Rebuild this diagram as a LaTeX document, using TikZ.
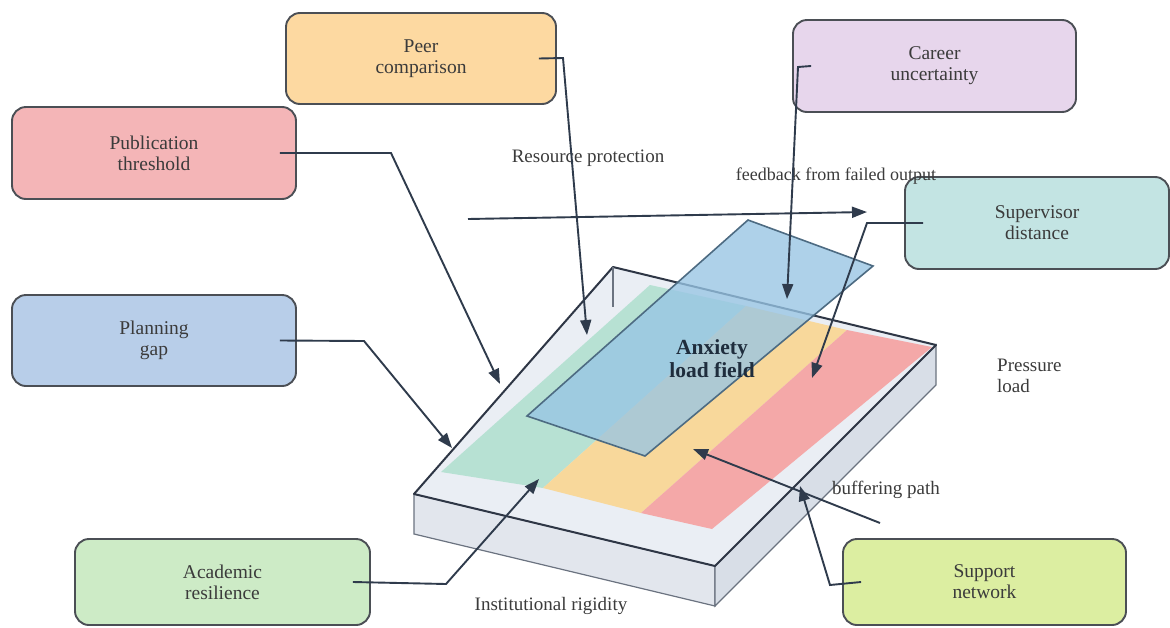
\documentclass[tikz,border=0pt]{standalone}
\usepackage{fontspec}
\setmainfont{Liberation Serif}
\usetikzlibrary{arrows.meta,calc}
\definecolor{peerfill}{HTML}{FDD9A1}
\definecolor{careerfill}{HTML}{E7D6EC}
\definecolor{pubfill}{HTML}{F4B5B7}
\definecolor{supfill}{HTML}{C3E4E3}
\definecolor{planfill}{HTML}{B8CEE9}
\definecolor{acadfill}{HTML}{CDEBC6}
\definecolor{suppfill}{HTML}{DCEEA1}
\definecolor{boxline}{HTML}{4B4F55}
\definecolor{txt}{HTML}{3B3B3B}
\definecolor{arrowc}{HTML}{2F3B4C}
\definecolor{sgreen}{HTML}{B7E1D3}
\definecolor{syellow}{HTML}{F8D89B}
\definecolor{sred}{HTML}{F4A8A8}
\definecolor{slabtop}{HTML}{EAEEF4}
\definecolor{slabfront}{HTML}{E2E6ED}
\definecolor{slabright}{HTML}{D8DEE7}
\definecolor{slabedge}{HTML}{6B7380}
\definecolor{topedge}{HTML}{2E3645}
\definecolor{planefill}{HTML}{98C5E4}
\definecolor{planeedge}{HTML}{4D6B82}
\definecolor{anx}{HTML}{1F2D3D}
\tikzset{
  box/.style={draw=boxline, line width=1.9pt, rounded corners=14pt, align=center,
    font=\fontsize{19.5}{21}\selectfont, text=txt, inner sep=0pt},
  lbl/.style={font=\fontsize{19}{21}\selectfont, text=txt, inner sep=0pt},
  conn/.style={draw=arrowc, line width=1.9pt, -{Triangle[length=15pt,width=11pt]}},
}
\begin{document}
\begin{tikzpicture}[x=1pt,y=-1pt]
\useasboundingbox (0,0) rectangle (1170,627);
\fill[white] (0,0) rectangle (1170,627);

% slab
\coordinate (A) at (613,267);
\coordinate (B) at (936,345);
\coordinate (C) at (715,566);
\coordinate (D) at (414,494);
\coordinate (Bb) at (936,385);
\coordinate (Cb) at (715,606);
\coordinate (Db) at (414,534);
\filldraw[fill=slabfront, draw=slabedge, line width=1.2pt] (D) -- (C) -- (Cb) -- (Db) -- cycle;
\filldraw[fill=slabright, draw=slabedge, line width=1.2pt] (C) -- (B) -- (Bb) -- (Cb) -- cycle;
\fill[slabtop] (A) -- (B) -- (C) -- (D) -- cycle;
\fill[sgreen] (441,472) -- (543,488) -- (746,306) -- (650,285) -- cycle;
\fill[syellow] (543,488) -- (641,513) -- (847,330) -- (746,306) -- cycle;
\fill[sred] (641,513) -- (712,529) -- (932,347) -- (847,330) -- cycle;
\draw[topedge, line width=2pt, line join=round] (A) -- (B) -- (C) -- (D) -- cycle;
\draw[slabedge, line width=1.4pt] (A) -- (613,307);

% translucent plane
\filldraw[fill=planefill, fill opacity=0.78, draw=planeedge, line width=1.6pt]
  (748,220) -- (873,266) -- (645,456) -- (527,416) -- cycle;
\node[font=\fontsize{21.5}{23}\selectfont\bfseries, text=anx, align=center, inner sep=0pt]
  (field) at (712,359) {Anxiety\\load field};

% boxes
\node[box, fill=peerfill, minimum width=270pt, minimum height=91pt] (peer) at (421,58.5) {Peer\\comparison};
\node[box, fill=careerfill, minimum width=283pt, minimum height=92pt] (career) at (934.5,66) {Career\\uncertainty};
\node[box, fill=pubfill, minimum width=284pt, minimum height=92pt] (pub) at (154,153) {Publication\\threshold};
\node[box, fill=supfill, minimum width=264pt, minimum height=92pt] (sup) at (1037,223) {Supervisor\\distance};
\node[box, fill=planfill, minimum width=284pt, minimum height=91pt] (plan) at (154,340.5) {Planning\\gap};
\node[box, fill=acadfill, minimum width=295pt, minimum height=86pt] (acad) at (222.5,582) {Academic\\resilience};
\node[box, fill=suppfill, minimum width=283pt, minimum height=86pt] (supp) at (984.5,582) {Support\\network};

% labels
\node[lbl] (res) at (588,158) {Resource protection};
\node[lbl, font=\fontsize{18}{21}\selectfont] (fb) at (836,176) {feedback from failed output};
\node[lbl, align=left, anchor=west] (press) at (997,376) {Pressure\\load};
\node[lbl] (buf) at (886,490) {buffering path};
\node[lbl] (inst) at (551,606) {Institutional rigidity};

% arrow ends
\coordinate (tPub) at (500,384);
\coordinate (tPeer) at (587,335);
\coordinate (tCar) at (787,299);
\coordinate (tSup) at (812,378);
\coordinate (tPlan) at (452,448);
\coordinate (tAcad) at (539,479);
\coordinate (tSupp) at (800,486);
\coordinate (bufS) at (880,523);
\coordinate (tBuf) at (693,449);
\coordinate (hS) at (468,219);
\coordinate (hE) at (867,212);

% connectors
\draw[conn] ([xshift=-17pt]pub.east) -- (391,153) -- (tPub);
\draw[conn] ([xshift=-18pt]peer.east) -- (563,58) -- (tPeer);
\draw[conn] ([xshift=19pt]career.west) -- (798,67) -- (tCar);
\draw[conn] ([xshift=19pt]sup.west) -- (867,223) -- (tSup);
\draw[conn] ([xshift=-17pt]plan.east) -- (364,341) -- (tPlan);
\draw[conn] ([xshift=-18pt]acad.east) -- (446,584) -- (tAcad);
\draw[conn] ([xshift=19pt]supp.west) -- (830,585) -- (tSupp);
\draw[conn] (bufS) -- (tBuf);
\draw[conn] (hS) -- (hE);
\end{tikzpicture}
\end{document}
